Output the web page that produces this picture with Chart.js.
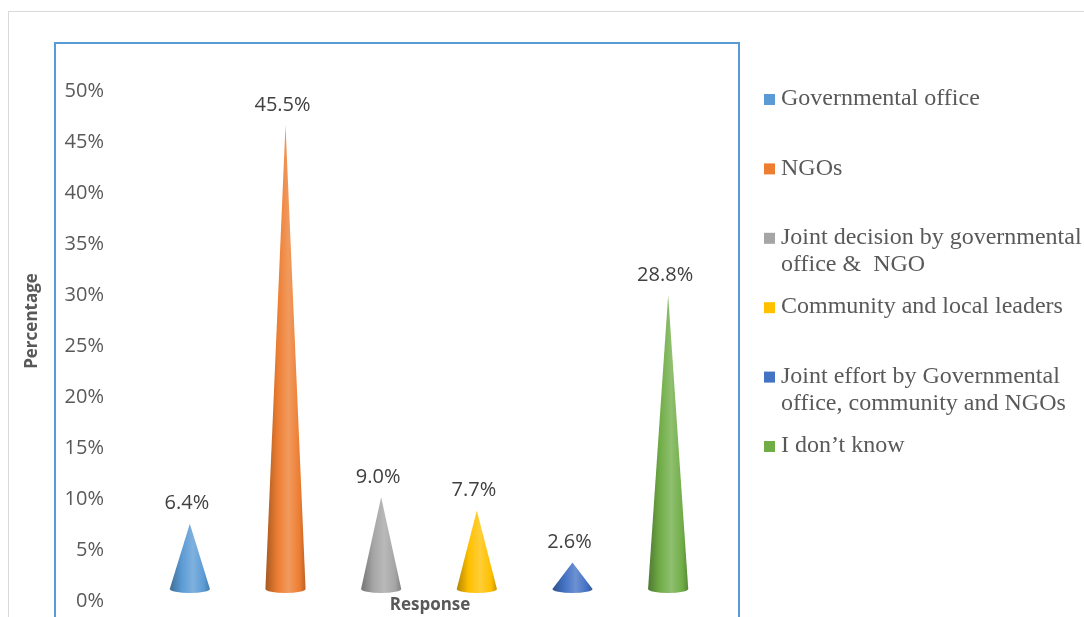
<!DOCTYPE html>
<html>
<head>
<meta charset="utf-8">
<title>Response</title>
<script src="https://cdn.jsdelivr.net/npm/chart.js@4.4.1/dist/chart.umd.min.js"></script>
<style>
  html, body { margin: 0; padding: 0; background: #fff; overflow: hidden; }
  #wrap { position: relative; width: 1084px; height: 617px; }
</style>
</head>
<body>
<div id="wrap"><canvas id="chart" width="1084" height="617"></canvas></div>
<script>
// categories (legend text, multi-line entries as arrays) and their shares in %
const categories = [
  "Governmental office",
  "NGOs",
  ["Joint decision by governmental", "office &  NGO"],
  "Community and local leaders",
  ["Joint effort by Governmental", "office, community and NGOs"],
  "I don\u2019t know"
];
const percentages = [6.4, 45.5, 9.0, 7.7, 2.6, 28.8];
const coneColors = ["#5B9BD5", "#ED7D31", "#A5A5A5", "#FFC000", "#4472C4", "#70AD47"];
const yMax = 50;
const yStep = 5;

const yTitle = "Percentage";
const xTitle = "Response";

// lighten (amt > 0) or darken (amt < 0) a hex colour
function shade(hex, amt) {
  const n = parseInt(hex.slice(1), 16);
  let r = (n >> 16) & 255, g = (n >> 8) & 255, b = n & 255;
  const f = (c) => Math.round(amt < 0 ? c * (1 + amt) : c + (255 - c) * amt);
  return `rgb(${f(r)},${f(g)},${f(b)})`;
}

function drawCone(ctx, cx, tipY, baseY, w, color) {
  const r = w / 2;
  const ry = r * 0.2;
  const grad = ctx.createLinearGradient(cx - r, 0, cx + r, 0);
  grad.addColorStop(0, shade(color, -0.3));
  grad.addColorStop(0.3, color);
  grad.addColorStop(0.58, shade(color, 0.22));
  grad.addColorStop(0.85, color);
  grad.addColorStop(1, shade(color, -0.22));
  ctx.save();
  ctx.fillStyle = grad;
  ctx.beginPath();
  ctx.moveTo(cx, tipY);
  ctx.lineTo(cx + r, baseY);
  ctx.ellipse(cx, baseY, r, ry, 0, 0, Math.PI);
  ctx.closePath();
  ctx.fill();
  ctx.restore();
}

// the 3D floor sits a little above the 0% line
const floorLift = 12;

const conePlugin = {
  id: "cones",
  beforeDraw(chart) {
    const ctx = chart.ctx;
    ctx.save();
    // outer chart frame
    ctx.strokeStyle = "#D9D9D9";
    ctx.lineWidth = 1;
    ctx.strokeRect(8.5, 11.5, 1100, 700);
    // plot frame
    ctx.strokeStyle = "#5B9BD5";
    ctx.lineWidth = 2;
    ctx.strokeRect(55, 43, 684, 700);
    ctx.restore();
  },
  // plain bars are replaced by cones below
  beforeDatasetDraw() {
    return false;
  },
  afterDatasetsDraw(chart) {
    const ctx = chart.ctx;
    const meta = chart.getDatasetMeta(0);
    meta.data.forEach((el, i) => {
      drawCone(ctx, el.x, el.y - floorLift, el.base - floorLift, el.width, coneColors[i]);
      ctx.save();
      ctx.fillStyle = "#404040";
      ctx.font = "20px 'Open Sans'";
      ctx.textAlign = "center";
      ctx.textBaseline = "middle";
      ctx.fillText(percentages[i].toFixed(1) + "%", el.x - 3, el.y - floorLift - 20);
      ctx.restore();
    });
  },
  afterDraw(chart) {
    const ctx = chart.ctx;
    ctx.save();
    // axis titles
    ctx.fillStyle = "#595959";
    ctx.font = "bold 17px 'Open Sans'";
    ctx.textAlign = "center";
    ctx.textBaseline = "middle";
    ctx.fillText(xTitle, 430, 605);
    ctx.translate(32, 321);
    ctx.rotate(-Math.PI / 2);
    ctx.fillText(yTitle, 0, 0);
    ctx.restore();

    // legend
    ctx.save();
    ctx.font = "24px 'Liberation Serif'";
    ctx.textBaseline = "middle";
    ctx.textAlign = "left";
    categories.forEach((label, i) => {
      const y = 99 + i * 69.4;
      ctx.fillStyle = coneColors[i];
      ctx.fillRect(764, y - 5, 11, 11);
      ctx.fillStyle = "#595959";
      const lines = Array.isArray(label) ? label : [label];
      lines.forEach((line, j) => ctx.fillText(line, 781, y + j * 27));
    });
    ctx.restore();
  }
};

new Chart(document.getElementById("chart"), {
  type: "bar",
  data: {
    labels: categories,
    datasets: [{
      data: percentages,
      backgroundColor: coneColors,
      barPercentage: 0.42,
      categoryPercentage: 1
    }]
  },
  options: {
    responsive: false,
    animation: false,
    events: [],
    layout: { padding: { left: 42, right: 368, top: 91, bottom: 16 } },
    plugins: {
      legend: { display: false },
      tooltip: { enabled: false }
    },
    scales: {
      x: {
        display: false,
        offset: true,
        ticks: { display: false },
        afterFit(scale) { scale.height = 0; }
      },
      y: {
        min: 0,
        max: yMax,
        border: { display: false },
        grid: { display: false, drawTicks: false },
        ticks: {
          stepSize: yStep,
          padding: 38,
          color: "#595959",
          font: { family: "'Open Sans'", size: 20 },
          callback: (v) => v + "%"
        },
        afterFit(scale) {
          scale.width = 100;
          // tick padding should only push labels sideways
          scale.paddingTop = 12;
          scale.paddingBottom = 12;
        }
      }
    }
  },
  plugins: [conePlugin]
});
</script>
</body>
</html>
